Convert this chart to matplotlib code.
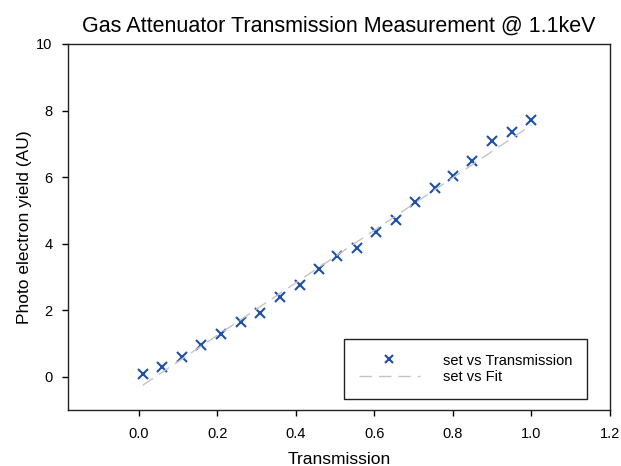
import numpy as np
import matplotlib
matplotlib.use('Agg')
import matplotlib.pyplot as plt

# ===== DATA =====
transmission = [0.01, 0.06, 0.11, 0.16, 0.21, 0.26, 0.31, 0.36, 0.41, 0.46,
                 0.505, 0.555, 0.605, 0.655, 0.705, 0.755, 0.80, 0.85, 0.90, 0.95, 1.0]
yield_au = [0.07, 0.29, 0.60, 0.94, 1.29, 1.63, 1.92, 2.39, 2.76, 3.23,
            3.63, 3.88, 4.35, 4.71, 5.26, 5.66, 6.03, 6.47, 7.09, 7.36, 7.72]
fit_x = [0.01, 1.0]
fit_y = [-0.26, 7.56]

xticks = [0.0, 0.2, 0.4, 0.6, 0.8, 1.0, 1.2]
yticks = [0, 2, 4, 6, 8, 10]

plt.rcParams['font.family'] = ['Liberation Sans', 'DejaVu Sans']

# ===== FIGURE =====
fig = plt.figure(figsize=(6.21, 4.66), dpi=100)
ax = fig.add_axes([0.1095, 0.1202, 0.8725, 0.7854])

ax.plot(transmission, yield_au, linestyle='none', marker='x', color='#1f4fa8',
        markersize=7, markeredgewidth=1.5, label='set vs Transmission')
ax.plot(fit_x, fit_y, color='#c4c4c4', linewidth=1.0, dashes=(9, 5),
        label='set vs Fit')

ax.set_xlim(-0.18, 1.2)
ax.set_ylim(-1, 10)
ax.set_xticks(xticks)
ax.set_yticks(yticks)
ax.set_xticklabels(['%.1f' % t for t in xticks])
ax.tick_params(direction='out', length=4.5, width=1, labelsize=10.5,
               top=False, right=False)
ax.tick_params(axis='x', pad=8)
ax.tick_params(axis='y', pad=6.5)
for s in ax.spines.values():
    s.set_linewidth(1.0)
    s.set_color('#222222')

ax.set_title('Gas Attenuator Transmission Measurement @ 1.1keV', fontsize=15.5, pad=9)
ax.set_xlabel('Transmission', fontsize=12.5, labelpad=8)
ax.set_ylabel('Photo electron yield (AU)', fontsize=12.5, labelpad=3)

leg = ax.legend(loc='lower right', bbox_to_anchor=(0.958, 0.03), fontsize=10.5,
                fancybox=False, framealpha=1, edgecolor='#222222',
                handlelength=4.2, borderpad=1.0, labelspacing=0.2,
                handletextpad=1.6, borderaxespad=0, markerscale=0.8)
leg.get_frame().set_linewidth(1.0)

fig.savefig('out.png', dpi=100)
